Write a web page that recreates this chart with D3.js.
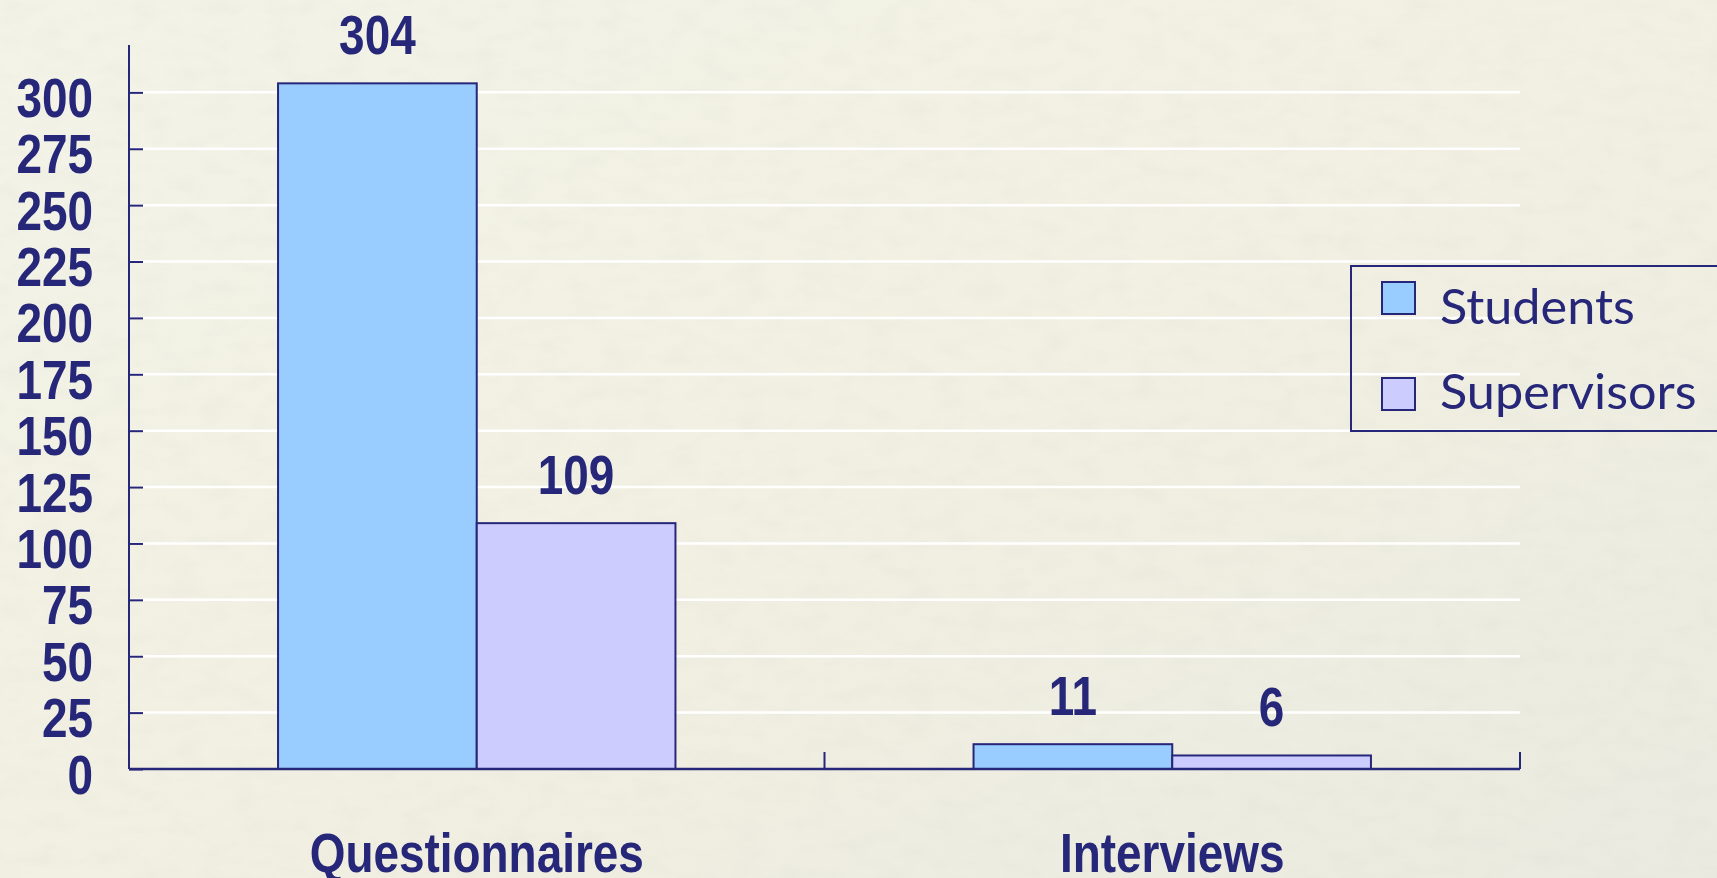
<!DOCTYPE html>
<html>
<head>
<meta charset="utf-8">
<script src="https://cdn.jsdelivr.net/npm/d3@7"></script>
<style>
  html, body { margin: 0; padding: 0; overflow: hidden; }
  svg { display: block; }
</style>
</head>
<body>
<svg id="chart" width="1717" height="878"></svg>
<script>
// data
const categories = ['Questionnaires', 'Interviews'];
const seriesNames = ['Students', 'Supervisors'];
const studentsValues = [304, 11];
const supervisorsValues = [109, 6];
const yTicks = [0, 25, 50, 75, 100, 125, 150, 175, 200, 225, 250, 275, 300];

const seriesColors = { Students: '#99ccff', Supervisors: '#ccccff' };
const navy = '#27277a';
// 没有窄体字，用 Liberation Sans 横向压缩
const labelFont = '"Liberation Sans", Arial, sans-serif';
const squeeze = 'scale(0.82,1)';
const legendFont = 'Lato, "Noto Sans", sans-serif';

const svg = d3.select('#chart');
const W = 1717, H = 878;

// 背景
const defs = svg.append('defs');
const bgGrad = defs.append('linearGradient').attr('id', 'bg').attr('x1', 0).attr('y1', 0).attr('x2', 1).attr('y2', 1);
bgGrad.append('stop').attr('offset', '0%').attr('stop-color', '#f3f3e8');
bgGrad.append('stop').attr('offset', '50%').attr('stop-color', '#f1f0e2');
bgGrad.append('stop').attr('offset', '100%').attr('stop-color', '#ebeae0');
const filt = defs.append('filter').attr('id', 'tex').attr('x', 0).attr('y', 0).attr('width', 1).attr('height', 1);
filt.append('feTurbulence').attr('type', 'fractalNoise').attr('baseFrequency', '0.03 0.06').attr('numOctaves', 3).attr('seed', 4);
filt.append('feColorMatrix').attr('type', 'matrix')
  .attr('values', '0 0 0 0 0.6  0 0 0 0 0.6  0 0 0 0 0.55  0 0 0 -1.2 0.7');

svg.append('rect').attr('width', W).attr('height', H).attr('fill', 'url(#bg)');
svg.append('rect').attr('width', W).attr('height', H).attr('filter', 'url(#tex)').attr('opacity', 0.18);

// scales
const x0 = d3.scaleBand().domain(categories).range([129, 1520]).paddingInner(0).paddingOuter(0);
const x1 = d3.scaleBand().domain(seriesNames).range([0, x0.bandwidth()]).paddingInner(0).paddingOuter(0.75);
const y = d3.scaleLinear().domain([0, 321]).range([769, 45]);

const rows = categories.map((c, i) => ({
  category: c,
  values: [
    { series: 'Students', value: studentsValues[i] },
    { series: 'Supervisors', value: supervisorsValues[i] }
  ]
}));

// 网格线
svg.append('g')
  .selectAll('line')
  .data(yTicks.filter(d => d > 0))
  .join('line')
  .attr('x1', 129).attr('x2', 1520)
  .attr('y1', d => y(d)).attr('y2', d => y(d))
  .attr('stroke', '#ffffff')
  .attr('stroke-width', 2.5);

// y axis
const yAxis = d3.axisLeft(y).tickValues(yTicks).tickSize(-14);
svg.append('g')
  .attr('transform', 'translate(129,0)')
  .call(yAxis)
  .call(g => {
    g.select('.domain').attr('stroke', navy).attr('stroke-width', 2).attr('d', `M0,${y.range()[1]}V${y.range()[0]}`);
    g.selectAll('.tick line').attr('stroke', navy).attr('stroke-width', 2);
    g.selectAll('.tick text')
      .attr('fill', navy)
      .attr('font-family', labelFont)
      .attr('font-weight', 'bold')
      .attr('font-size', '56px')
      .attr('text-anchor', 'end')
      .attr('dy', null)
      .attr('x', 0).attr('y', 0)
      .attr('transform', `translate(-36,24) ${squeeze}`);
  });

// bars
const groups = svg.append('g')
  .selectAll('g')
  .data(rows)
  .join('g')
  .attr('transform', d => `translate(${x0(d.category)},0)`);

groups.selectAll('rect')
  .data(d => d.values)
  .join('rect')
  .attr('x', d => x1(d.series))
  .attr('width', x1.bandwidth())
  .attr('y', d => y(d.value))
  .attr('height', d => y(0) - y(d.value))
  .attr('fill', d => seriesColors[d.series])
  .attr('stroke', navy)
  .attr('stroke-width', 2);

// 数值标签
groups.selectAll('text')
  .data(d => d.values)
  .join('text')
  .attr('transform', d => `translate(${x1(d.series) + x1.bandwidth() / 2},${y(d.value) - 29}) ${squeeze}`)
  .attr('text-anchor', 'middle')
  .attr('fill', navy)
  .attr('font-family', labelFont)
  .attr('font-weight', 'bold')
  .attr('font-size', '56px')
  .text(d => d.value);

// x axis
const xg = svg.append('g');
xg.append('line')
  .attr('x1', 129).attr('x2', 1520)
  .attr('y1', y(0)).attr('y2', y(0))
  .attr('stroke', navy).attr('stroke-width', 2.5);
xg.selectAll('.xtick')
  .data(categories)
  .join('line')
  .attr('class', 'xtick')
  .attr('x1', d => x0(d) + x0.bandwidth()).attr('x2', d => x0(d) + x0.bandwidth())
  .attr('y1', y(0)).attr('y2', y(0) - 17)
  .attr('stroke', navy).attr('stroke-width', 2);
xg.selectAll('.xlabel')
  .data(categories)
  .join('text')
  .attr('class', 'xlabel')
  .attr('transform', d => `translate(${x0(d) + x0.bandwidth() / 2},872) ${squeeze}`)
  .attr('text-anchor', 'middle')
  .attr('fill', navy)
  .attr('font-family', labelFont)
  .attr('font-weight', 'bold')
  .attr('font-size', '56px')
  .text(d => d);

// legend
const legend = svg.append('g').attr('transform', 'translate(1351,266)');
legend.append('rect')
  .attr('width', 420).attr('height', 165)
  .attr('fill', 'none')
  .attr('stroke', navy).attr('stroke-width', 2);
const items = legend.selectAll('.item')
  .data(seriesNames)
  .join('g')
  .attr('class', 'item')
  .attr('transform', (d, i) => `translate(31,${16 + i * 96})`);
items.append('rect')
  .attr('width', 33).attr('height', 32)
  .attr('fill', d => seriesColors[d])
  .attr('stroke', navy).attr('stroke-width', 2);
items.append('text')
  .attr('transform', (d, i) => `translate(58,${i === 0 ? 42 : 31}) scale(1.05,1)`)
  .attr('fill', navy)
  .attr('font-family', legendFont)
  .attr('font-size', '48px')
  .text(d => d);
</script>
</body>
</html>
